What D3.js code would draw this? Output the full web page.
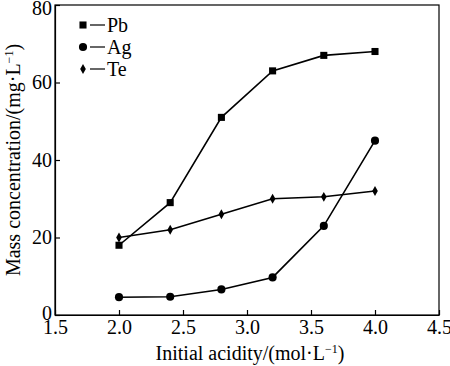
<!DOCTYPE html>
<head>
  <meta charset="utf-8">
  <script src='https://d3js.org/d3.v7.min.js'></script>
  <style>
    body { margin: 0; background: #fff; }
    svg text { font-family: "Liberation Serif", "Times New Roman", serif; fill: #000; }
  </style>
</head>
<body>
<div id='vis'></div>
<script>
const acidity = [2.0, 2.4, 2.8, 3.2, 3.6, 4.0];
const pb = [18, 29, 51, 63, 67, 68];
const ag = [4.6, 4.7, 6.6, 9.7, 23, 45];
const te = [20, 22, 26, 30, 30.5, 32];
const seriesNames = ['Pb', 'Ag', 'Te'];
const xTicks = [1.5, 2.0, 2.5, 3.0, 3.5, 4.0, 4.5];
const yTicks = [0, 20, 40, 60, 80];

const width = 450, height = 366;
const margin = { left: 55, right: 11, top: 5, bottom: 51 };
const fontSize = 20;

const svg = d3.select('#vis').append('svg')
  .attr('width', width).attr('height', height);

const x = d3.scaleLinear().domain([1.5, 4.5]).range([margin.left, width - margin.right]);
const y = d3.scaleLinear().domain([0, 80]).range([height - margin.bottom, margin.top]);

// frame
svg.append('rect')
  .attr('x', x(1.5)).attr('y', y(80))
  .attr('width', x(4.5) - x(1.5)).attr('height', y(0) - y(80))
  .attr('fill', 'none').attr('stroke', '#000').attr('stroke-width', 1.2);

const xAxis = svg.append('g')
  .attr('transform', `translate(0,${y(0)})`)
  .call(d3.axisBottom(x).tickValues(xTicks).tickFormat(d3.format('.1f')).tickSizeInner(-5).tickSizeOuter(0).tickPadding(5));
const yAxis = svg.append('g')
  .attr('transform', `translate(${x(1.5)},0)`)
  .call(d3.axisLeft(y).tickValues(yTicks).tickSizeInner(-5).tickSizeOuter(0).tickPadding(3));

[xAxis, yAxis].forEach(a => {
  a.attr('font-family', '"Liberation Serif", serif').attr('font-size', fontSize);
  a.select('.domain').attr('stroke', '#000').attr('stroke-width', 1.2);
  a.selectAll('.tick line').attr('stroke', '#000').attr('stroke-width', 1.2);
});
// keep the top label inside the picture
yAxis.selectAll('.tick text').filter(d => d === 80).attr('dy', '0.45em');
yAxis.selectAll('.tick text').filter(d => d === 0).attr('dy', '0.2em');

svg.append('text')
  .attr('x', (x(1.5) + x(4.5)) / 2 + 3).attr('y', 360)
  .attr('text-anchor', 'middle').style('font-size', fontSize + 'px')
  .html('Initial acidity/(mol·L<tspan dy="-7" font-size="12">−1</tspan><tspan dy="7">)</tspan>');

svg.append('text')
  .attr('transform', `translate(20,${(y(0) + y(80)) / 2}) rotate(-90)`)
  .attr('text-anchor', 'middle').style('font-size', fontSize + 'px')
  .html('Mass concentration/(mg·L<tspan dy="-7" font-size="12">−1</tspan><tspan dy="7">)</tspan>');

const series = [
  { name: 'Pb', values: pb, shape: d3.symbolSquare, size: 50 },
  { name: 'Ag', values: ag, shape: d3.symbolCircle, size: 52 },
  { name: 'Te', values: te, shape: d3.symbolDiamond, size: 28 }
];

const line = d3.line().x((d, i) => x(acidity[i])).y(d => y(d));

series.forEach(s => {
  svg.append('path')
    .attr('d', line(s.values))
    .attr('fill', 'none').attr('stroke', '#000').attr('stroke-width', 1.6);
  svg.selectAll(null).data(s.values).enter()
    .append('path')
    .attr('d', d3.symbol().type(s.shape).size(s.size))
    .attr('transform', (d, i) => `translate(${x(acidity[i])},${y(d)})`)
    .attr('fill', '#000');
});

// legend
const legend = svg.append('g');
series.forEach((s, i) => {
  const ly = 25 + i * 22;
  legend.append('path')
    .attr('d', d3.symbol().type(s.shape).size(s.size))
    .attr('transform', `translate(83,${ly})`).attr('fill', '#000');
  legend.append('line')
    .attr('x1', 90).attr('x2', 105).attr('y1', ly).attr('y2', ly)
    .attr('stroke', '#000').attr('stroke-width', 1.2);
  legend.append('text')
    .attr('x', 107).attr('y', ly + 7).style('font-size', fontSize + 'px')
    .text(seriesNames[i]);
});
</script>
</body>
